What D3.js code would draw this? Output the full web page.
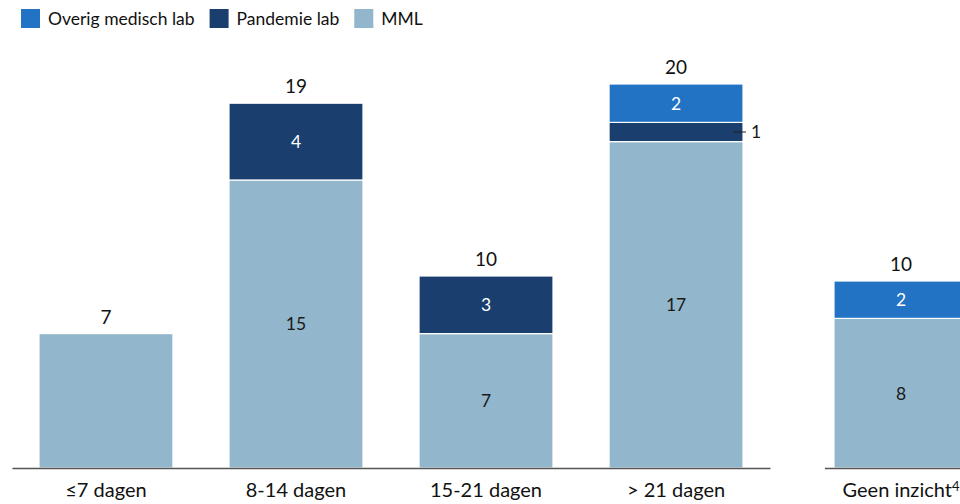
<!DOCTYPE html>
<html>
<head>
<meta charset="utf-8">
<script src="https://cdn.jsdelivr.net/npm/d3@7"></script>
<style>
	body { margin: 0; background: #fff; }
	svg text { font-family: Lato, "Open Sans", sans-serif; }
</style>
</head>
<body>
<svg id="chart" width="960" height="504"></svg>
<script>
var categories = ["≤7 dagen", "8-14 dagen", "15-21 dagen", "> 21 dagen", "Geen inzicht"];
var mml = [7, 15, 7, 17, 8];
var pandemie = [0, 4, 3, 1, 0];
var overig = [0, 0, 0, 2, 2];
var totals = [7, 19, 10, 20, 10];
var series = ["MML", "Pandemie lab", "Overig medisch lab"];
var legendOrder = ["Overig medisch lab", "Pandemie lab", "MML"];
var colors = {"MML": "#92b6cb", "Pandemie lab": "#1a3e6d", "Overig medisch lab": "#2373c5"};
var textColors = {"MML": "#1a1a1a", "Pandemie lab": "#ffffff", "Overig medisch lab": "#ffffff"};

var svg = d3.select("#chart");
var baseY = 468;

// rijen voor de stapeling
var rows = categories.map(function(c, i) {
	return {cat: c, "MML": mml[i], "Pandemie lab": pandemie[i], "Overig medisch lab": overig[i], total: totals[i]};
});
var stacked = d3.stack().keys(series)(rows);

// het rechter paneel heeft een iets kleinere schaal
var yMain = d3.scaleLinear().domain([0, 20]).range([baseY, 84]);
var ySide = d3.scaleLinear().domain([0, 20]).range([baseY, 94]);

// twee panelen: de eerste vier en "Geen inzicht"
var xMain = d3.scaleBand().domain(categories.slice(0, 4)).range([12, 770])
	.paddingInner(0.295).paddingOuter(0.142);
var xSide = d3.scaleBand().domain(categories.slice(4)).range([825, 977])
	.paddingInner(0).paddingOuter(0.067);

function isSide(c) { return categories.indexOf(c) >= 4; }
function xOf(c) { return isSide(c) ? xSide(c) : xMain(c); }
function yOf(c) { return isSide(c) ? ySide : yMain; }
var bw = xMain.bandwidth();

// segmenten
stacked.forEach(function(layer) {
	var key = layer.key;
	var g = svg.append("g").attr("class", "layer");
	layer.forEach(function(d) {
		var v = d[1] - d[0];
		if (v <= 0) return;
		var x0 = xOf(d.data.cat), y = yOf(d.data.cat);
		g.append("rect")
			.attr("x", x0)
			.attr("y", y(d[1]))
			.attr("width", bw)
			.attr("height", y(d[0]) - y(d[1]))
			.attr("fill", colors[key])
			.attr("stroke", "#fff")
			.attr("stroke-width", 1.2);
		if (v === d.data.total) return; // enkel segment: alleen totaal tonen
		var cy = (y(d[0]) + y(d[1])) / 2;
		if (v >= 2) {
			g.append("text")
				.attr("x", x0 + bw / 2)
				.attr("y", cy)
				.attr("dy", "0.36em")
				.attr("text-anchor", "middle")
				.attr("font-size", 17.5)
				.attr("fill", textColors[key])
				.text(v);
		} else {
			// klein segment: label naast de balk
			g.append("line")
				.attr("x1", x0 + bw - 10).attr("x2", x0 + bw + 3)
				.attr("y1", cy).attr("y2", cy)
				.attr("stroke", "#222").attr("stroke-width", 1);
			g.append("text")
				.attr("x", x0 + bw + 8)
				.attr("y", cy)
				.attr("dy", "0.36em")
				.attr("font-size", 17.5)
				.attr("fill", "#1a1a1a")
				.text(v);
		}
	});
});

// totalen boven de balken
svg.append("g").selectAll("text")
	.data(rows)
	.enter().append("text")
	.attr("x", function(d) { return xOf(d.cat) + bw / 2; })
	.attr("y", function(d) { return yOf(d.cat)(d.total) - 10; })
	.attr("text-anchor", "middle")
	.attr("font-size", 19)
	.attr("fill", "#111")
	.text(function(d) { return d.total; });

// assen
var axMain = svg.append("g")
	.attr("transform", "translate(0," + baseY + ")")
	.call(d3.axisBottom(xMain).tickSize(0).tickPadding(15));
var axSide = svg.append("g")
	.attr("transform", "translate(0," + baseY + ")")
	.call(d3.axisBottom(xSide).tickSize(0).tickPadding(15));
[axMain, axSide].forEach(function(ax) {
	ax.select(".domain").attr("stroke", "#555").attr("stroke-width", 1.3);
	ax.selectAll("text")
		.attr("font-family", "Lato, 'Open Sans', sans-serif")
		.attr("font-size", 20)
		.attr("fill", "#111");
});
axSide.select(".domain").attr("d", "M825,0.5H960");
axSide.selectAll(".tick text").append("tspan")
	.attr("dy", "-0.5em")
	.attr("font-size", 13)
	.text("4");

// legenda
var lx = 21;
var legend = svg.append("g").attr("class", "legend");
legendOrder.forEach(function(k) {
	legend.append("rect")
		.attr("x", lx).attr("y", 9)
		.attr("width", 19).attr("height", 19)
		.attr("fill", colors[k]);
	var t = legend.append("text")
		.attr("x", lx + 27).attr("y", 19)
		.attr("dy", "0.35em")
		.attr("font-size", 17.5)
		.attr("fill", "#111")
		.text(k);
	lx += 27 + t.node().getComputedTextLength() + 15;
});
</script>
</body>
</html>
